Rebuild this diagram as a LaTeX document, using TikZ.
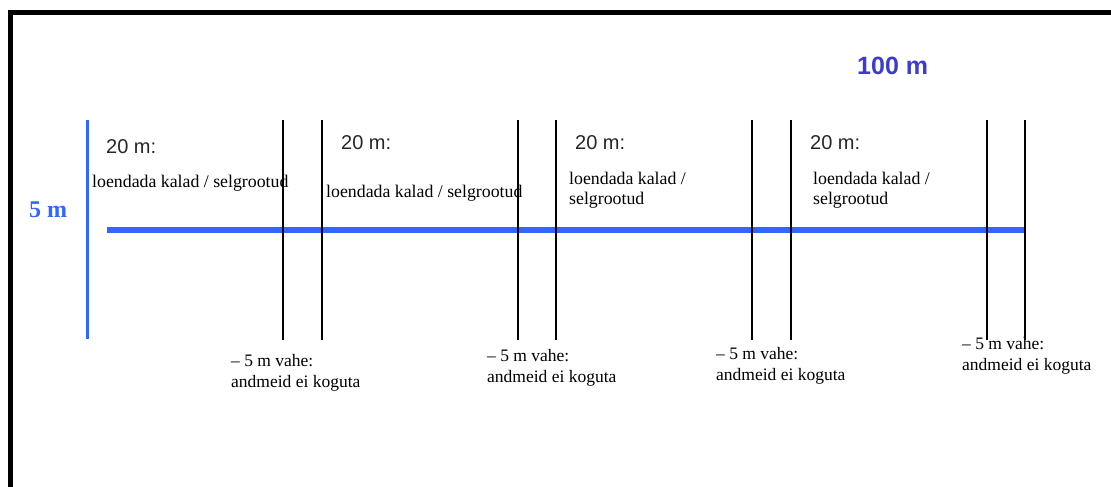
\documentclass[tikz,border=0pt]{standalone}
\usepackage{fontspec}
\setmainfont{Liberation Serif}
\newfontfamily\arialfont{Liberation Sans}
\definecolor{lineblue}{RGB}{51,102,255}
\definecolor{titleblue}{RGB}{60,60,205}

\begin{document}
\begin{tikzpicture}[x=1pt, y=-1pt,
    every node/.style={inner sep=0pt, anchor=west},
    seglabel/.style={font=\arialfont\fontsize{20}{24}\selectfont, text=black!85},
    spantext/.style={font=\fontsize{17.8}{20}\selectfont, align=left},
    gaptext/.style={font=\fontsize{17.5}{20.5}\selectfont, align=left}]
    \useasboundingbox (0,0) rectangle (1111,487);

    % Frame
    \coordinate (FB) at (10.5,495);
    \coordinate (FC) at (10.5,12.5);
    \coordinate (FR) at (1120,12.5);
    \draw[line width=5pt] (FB) -- (FC) -- (FR);

    % Width and length of the transect
    \coordinate (W1) at (87.7,120);
    \coordinate (W2) at (87.7,339);
    \draw[lineblue, line width=3.5pt] (W1) -- (W2);
    \coordinate (L1) at (107,230);
    \coordinate (L2) at (1025,230);
    \draw[lineblue, line width=6.5pt] (L1) -- (L2);

    % Section borders
    \foreach \x [count=\i] in {283,322,518,556,752,791,987,1025}{
        \coordinate (c\i a) at (\x,120);
        \coordinate (c\i b) at (\x,340);
        \draw[line width=2.2pt] (c\i a) -- (c\i b);
    }

    \node[text=lineblue, font=\bfseries\fontsize{24}{28}\selectfont] (width) at (29,210) {5 m};
    \node[text=titleblue, font=\arialfont\bfseries\fontsize{25}{29}\selectfont] (length) at (857,66) {100 m};

    % Counted sections
    \node[seglabel] (s1) at (106,147) {20 m:};
    \node[seglabel] (s2) at (341,143) {20 m:};
    \node[seglabel] (s3) at (575,143) {20 m:};
    \node[seglabel] (s4) at (810,143) {20 m:};
    \node[spantext] (t1) at (92,183) {loendada kalad / selgrootud};
    \node[spantext] (t2) at (326,193) {loendada kalad / selgrootud};
    \node[spantext] (t3) at (569,190) {loendada kalad /\\selgrootud};
    \node[spantext] (t4) at (813,190) {loendada kalad /\\selgrootud};

    % Gaps
    \node[gaptext] (g1) at (231,373) {– 5 m vahe:\\andmeid ei koguta};
    \node[gaptext] (g2) at (487,368) {– 5 m vahe:\\andmeid ei koguta};
    \node[gaptext] (g3) at (716,366) {– 5 m vahe:\\andmeid ei koguta};
    \node[gaptext] (g4) at (962,356) {– 5 m vahe:\\andmeid ei koguta};
\end{tikzpicture}
\end{document}
